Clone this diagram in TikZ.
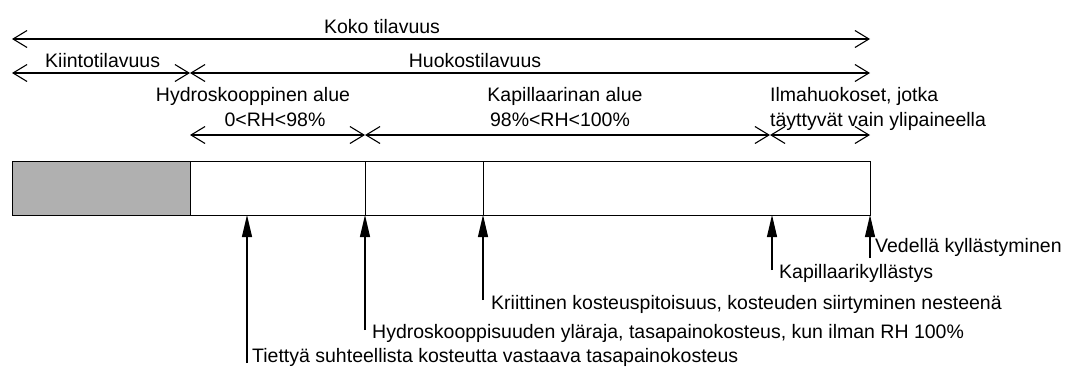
\documentclass[tikz,border=0pt]{standalone}
\usepackage{fontspec}
\setmainfont{Liberation Sans}
\usetikzlibrary{arrows.meta,positioning}
\definecolor{solidgray}{HTML}{B0B0B0}
\tikzset{
  span/.style={line width=1.1pt,
    {Straight Barb[length=14pt,width=17pt]}-{Straight Barb[length=14pt,width=17pt]}},
  pointer/.style={line width=1.1pt,-{Triangle[length=22pt,width=10pt]}},
  lbl/.style={font=\fontsize{19.5}{23}\selectfont,inner sep=0pt,anchor=base},
  note/.style={lbl,anchor=base west}
}

\begin{document}
\begin{tikzpicture}[x=1pt,y=-1pt]
  \useasboundingbox (0,0) rectangle (1078,373);
  % Bar
  \coordinate (t0) at (12,161);  \coordinate (b0) at (12,215);
  \coordinate (t1) at (190,161); \coordinate (b1) at (190,215);
  \coordinate (t2) at (365,161); \coordinate (b2) at (365,215);
  \coordinate (t3) at (483,161); \coordinate (b3) at (483,215);
  \coordinate (t4) at (870,161); \coordinate (b4) at (870,215);
  \fill[solidgray] (t0) rectangle (b1);
  \draw[line width=1pt] (t0) rectangle (b4);
  \draw[line width=1pt] (t1) -- (b1) (t2) -- (b2) (t3) -- (b3);
  % Volume spans
  \coordinate (kL) at (12,39);  \coordinate (kR) at (870,39);
  \coordinate (aL) at (12,73);  \coordinate (aM) at (190,73);
  \coordinate (aR) at (870,73);
  \draw[span] (kL) -- (kR);
  \draw[span] (aL) -- (aM);
  \draw[span] (aM) -- (aR);
  \node[lbl] (koko) at (382,33) {Koko tilavuus};
  \node[note] (kiinto) at (45,67) {Kiintotilavuus};
  \node[lbl] (huokos) at (475,67) {Huokostilavuus};
  % Moisture ranges
  \coordinate (rL) at (190,135); \coordinate (rM) at (365,135);
  \coordinate (rN) at (770,135); \coordinate (rR) at (870,135);
  \draw[span] (rL) -- (rM);
  \draw[span] (rM) -- (rN);
  \draw[span] (rN) -- (rR);
  \node[lbl] (hyd) at (253,101) {Hydroskooppinen alue};
  \node[lbl] (hydrh) at (275,126) {0<RH<98\%};
  \node[lbl] (kap) at (565,101) {Kapillaarinan alue};
  \node[lbl] (kaprh) at (560,126) {98\%<RH<100\%};
  \node[note] (ilma) at (770,101) {Ilmahuokoset, jotka};
  \node[note] (ilma2) at (770,126) {täyttyvät vain ylipaineella};
  % Moisture states
  \coordinate (p1) at (247,215); \coordinate (q1) at (247,363);
  \coordinate (q2) at (365,330);
  \coordinate (q3) at (483,300);
  \coordinate (p4) at (772,215); \coordinate (q4) at (772,270);
  \coordinate (q5) at (870,258);
  \draw[pointer] (q1) -- (p1);
  \draw[pointer] (q2) -- (b2);
  \draw[pointer] (q3) -- (b3);
  \draw[pointer] (q4) -- (p4);
  \draw[pointer] (q5) -- (b4);
  \node[note] (tasa) at (252,362) {Tiettyä suhteellista kosteutta vastaava tasapainokosteus};
  \node[note] (ylaraja) at (372,338) {Hydroskooppisuuden yläraja, tasapainokosteus, kun ilman RH 100\%};
  \node[note] (kriit) at (491,309) {Kriittinen kosteuspitoisuus, kosteuden siirtyminen nesteenä};
  \node[note] (kapk) at (779,278) {Kapillaarikyllästys};
  \node[note] (vesi) at (875,252) {Vedellä kyllästyminen};
\end{tikzpicture}
\end{document}
